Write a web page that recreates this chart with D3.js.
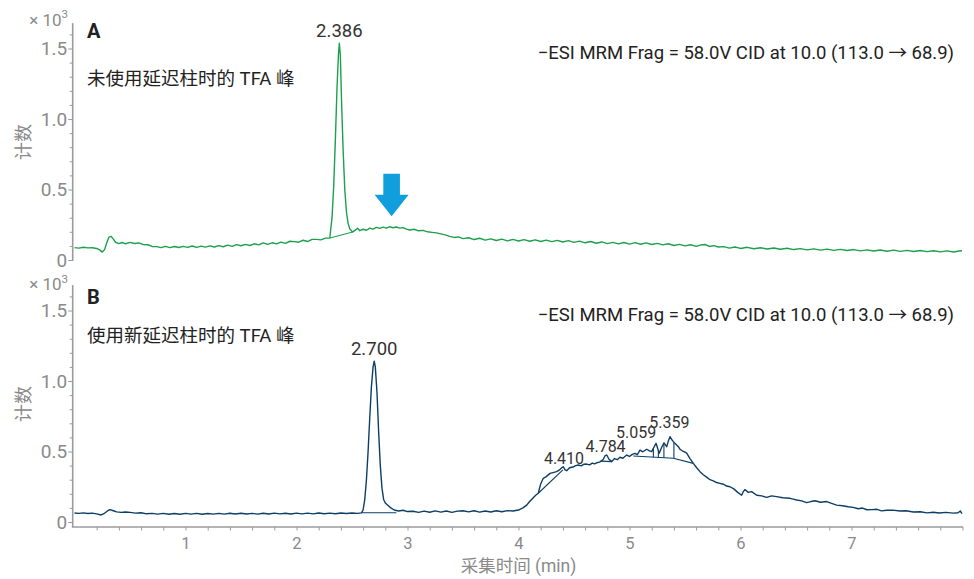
<!DOCTYPE html>
<html>
<head>
<meta charset="utf-8">
<script src="https://cdn.jsdelivr.net/npm/d3@7"></script>
<style>
  body { margin: 0; background: #fff; }
  svg { display: block; font-family: Roboto, "Noto Sans CJK SC", sans-serif; }
</style>
</head>
<body>
<div class="chart-container"></div>
<script>
////////////////////////////////////////////////////////////
//// Data //////////////////////////////////////////////////
////////////////////////////////////////////////////////////
// [time (min), counts (x10^3)]
const traceA = [
  [0.00,0.088],[0.04,0.084],[0.08,0.090],[0.12,0.086],[0.16,0.087],[0.20,0.082],[0.23,0.070],[0.25,0.056],
  [0.27,0.072],[0.29,0.120],[0.31,0.162],[0.33,0.168],[0.35,0.148],[0.37,0.126],
  [0.40,0.116],[0.43,0.124],[0.46,0.115],[0.50,0.125],[0.54,0.117],[0.58,0.121],[0.62,0.109],[0.66,0.108],
  [0.70,0.096],[0.74,0.095],[0.78,0.088],[0.82,0.097],[0.86,0.088],[0.90,0.096],[0.94,0.089],[0.98,0.097],
  [1.02,0.090],[1.06,0.099],[1.10,0.090],[1.14,0.098],[1.18,0.091],[1.22,0.100],[1.26,0.092],[1.30,0.102],
  [1.34,0.094],[1.38,0.105],[1.42,0.097],[1.46,0.109],[1.50,0.101],[1.54,0.111],[1.58,0.103],[1.62,0.115],
  [1.66,0.107],[1.70,0.121],[1.74,0.111],[1.78,0.122],[1.82,0.114],[1.86,0.127],[1.90,0.118],[1.94,0.133],
  [1.98,0.130],[2.02,0.126],[2.06,0.140],[2.10,0.131],[2.14,0.146],[2.18,0.146],[2.22,0.143],[2.26,0.155],
  [2.30,0.156],
  [2.32,0.30],[2.335,0.52],[2.35,0.85],[2.365,1.22],[2.378,1.46],[2.386,1.537],[2.395,1.45],[2.405,1.15],
  [2.42,0.78],[2.435,0.50],[2.45,0.34],[2.465,0.26],[2.48,0.22],[2.506,0.199],
  [2.53,0.212],[2.55,0.225],[2.57,0.208],[2.60,0.218],[2.63,0.211],[2.66,0.226],[2.69,0.219],[2.72,0.231],
  [2.75,0.224],[2.78,0.233],[2.81,0.226],[2.84,0.236],[2.87,0.229],[2.90,0.234],[2.93,0.226],[2.96,0.230],
  [2.99,0.219],[3.02,0.213],[3.06,0.218],[3.10,0.207],[3.14,0.210],[3.18,0.200],[3.22,0.196],[3.26,0.192],
  [3.30,0.185],[3.34,0.178],[3.38,0.168],[3.42,0.160],[3.46,0.164],
  [3.50,0.152],[3.55,0.158],[3.60,0.145],[3.65,0.154],[3.70,0.141],[3.75,0.150],[3.80,0.138],[3.85,0.148],
  [3.90,0.136],[3.95,0.146],[4.00,0.135],[4.05,0.145],[4.10,0.133],[4.15,0.143],[4.20,0.131],[4.25,0.141],
  [4.30,0.130],[4.35,0.139],[4.40,0.128],[4.45,0.137],[4.50,0.125],[4.55,0.134],[4.60,0.122],[4.65,0.131],
  [4.70,0.119],[4.75,0.128],[4.80,0.116],[4.85,0.125],[4.90,0.114],[4.95,0.124],[5.00,0.113],[5.05,0.123],
  [5.10,0.112],[5.15,0.121],[5.20,0.110],[5.25,0.118],[5.30,0.107],[5.35,0.115],[5.40,0.103],[5.45,0.111],
  [5.50,0.100],[5.55,0.108],[5.60,0.097],[5.64,0.106],[5.68,0.110],[5.72,0.096],[5.76,0.102],[5.80,0.092],
  [5.85,0.095],[5.90,0.084],[5.95,0.092],[6.00,0.082],[6.06,0.090],[6.12,0.080],[6.18,0.087],[6.24,0.078],
  [6.30,0.085],[6.36,0.076],[6.42,0.083],[6.48,0.074],[6.54,0.081],[6.60,0.072],[6.66,0.079],[6.72,0.070],
  [6.78,0.077],[6.84,0.068],[6.90,0.075],[6.96,0.067],[7.02,0.074],[7.08,0.065],[7.14,0.072],[7.20,0.064],
  [7.26,0.071],[7.32,0.062],[7.38,0.070],[7.44,0.061],[7.50,0.068],[7.56,0.060],[7.62,0.067],[7.68,0.059],
  [7.74,0.066],[7.80,0.058],[7.86,0.065],[7.92,0.057],[7.97,0.064],[7.995,0.066]
];

const traceB = [
  [0.00,0.064],[0.04,0.061],[0.08,0.065],[0.12,0.060],[0.16,0.063],[0.20,0.058],[0.24,0.050],[0.27,0.062],
  [0.30,0.080],[0.32,0.088],[0.35,0.080],[0.38,0.072],[0.42,0.068],[0.46,0.071],
  [0.50,0.068],[0.55,0.063],[0.60,0.066],[0.65,0.058],[0.70,0.061],[0.75,0.056],[0.80,0.061],[0.85,0.055],
  [0.90,0.060],[0.95,0.055],[1.00,0.061],[1.05,0.056],[1.10,0.061],[1.15,0.055],[1.20,0.060],[1.25,0.056],
  [1.30,0.061],[1.35,0.056],[1.40,0.062],[1.45,0.057],[1.50,0.062],[1.55,0.057],[1.60,0.061],[1.65,0.056],
  [1.70,0.062],[1.75,0.057],[1.80,0.063],[1.85,0.058],[1.90,0.062],[1.95,0.057],[2.00,0.063],[2.05,0.058],
  [2.10,0.063],[2.15,0.058],[2.20,0.064],[2.25,0.059],[2.30,0.063],[2.35,0.059],[2.40,0.064],[2.45,0.060],
  [2.50,0.064],[2.55,0.061],
  [2.585,0.065],[2.60,0.085],[2.615,0.16],[2.63,0.30],[2.645,0.50],[2.66,0.74],[2.675,0.96],[2.69,1.10],
  [2.70,1.14],[2.71,1.10],[2.725,0.92],[2.74,0.64],[2.755,0.40],[2.77,0.24],[2.785,0.16],[2.80,0.135],
  [2.82,0.12],[2.85,0.10],[2.88,0.085],
  [2.92,0.078],[2.96,0.083],[3.00,0.074],[3.05,0.076],[3.10,0.068],[3.15,0.077],[3.20,0.069],[3.25,0.079],
  [3.30,0.070],[3.35,0.078],[3.40,0.068],[3.45,0.077],[3.50,0.080],[3.55,0.072],[3.60,0.080],[3.65,0.070],
  [3.70,0.078],[3.75,0.071],[3.80,0.080],[3.85,0.073],[3.90,0.081],[3.95,0.078],[4.00,0.085],
  [4.04,0.10],[4.074,0.12],[4.10,0.145],[4.133,0.172],[4.155,0.19],[4.178,0.204],
  [4.20,0.27],[4.223,0.31],[4.25,0.322],[4.284,0.345],[4.31,0.35],[4.344,0.357],[4.37,0.37],[4.39,0.385],
  [4.404,0.392],[4.42,0.37],[4.434,0.364],[4.46,0.385],[4.49,0.39],[4.515,0.40],[4.539,0.404],[4.565,0.398],
  [4.59,0.41],[4.614,0.411],[4.64,0.405],[4.665,0.418],[4.685,0.412],[4.705,0.42],[4.73,0.425],[4.76,0.44],
  [4.78,0.47],[4.795,0.475],[4.815,0.445],[4.84,0.428],[4.865,0.45],[4.89,0.442],[4.914,0.459],[4.94,0.452],
  [4.975,0.475],[5.00,0.465],[5.025,0.48],[5.05,0.487],[5.07,0.478],[5.095,0.51],[5.12,0.498],[5.155,0.516],
  [5.18,0.505],[5.20,0.499],[5.22,0.53],[5.239,0.558],[5.255,0.52],[5.268,0.487],[5.29,0.53],[5.311,0.562],
  [5.325,0.545],[5.335,0.534],[5.35,0.575],[5.365,0.605],[5.38,0.585],[5.395,0.57],[5.42,0.55],[5.44,0.534],
  [5.455,0.516],[5.475,0.505],[5.50,0.495],[5.515,0.488],[5.545,0.45],[5.575,0.416],[5.605,0.385],[5.635,0.357],
  [5.665,0.335],[5.695,0.318],[5.725,0.30],[5.755,0.292],[5.785,0.28],[5.815,0.274],[5.845,0.268],[5.875,0.255],
  [5.905,0.25],[5.94,0.235],[5.975,0.21],[6.01,0.19],[6.025,0.215],[6.04,0.23],[6.07,0.21],[6.10,0.215],
  [6.146,0.19],[6.19,0.185],[6.236,0.175],[6.28,0.185],[6.326,0.18],[6.38,0.172],[6.446,0.168],[6.475,0.162],
  [6.506,0.156],[6.55,0.15],[6.596,0.137],[6.635,0.145],[6.671,0.151],[6.72,0.14],[6.777,0.145],[6.82,0.132],
  [6.867,0.12],[6.92,0.115],[6.97,0.108],
  [7.016,0.104],[7.06,0.094],[7.10,0.099],[7.14,0.087],[7.182,0.088],[7.23,0.090],[7.27,0.079],[7.317,0.083],
  [7.37,0.084],[7.437,0.078],[7.49,0.080],[7.557,0.071],[7.62,0.073],[7.68,0.065],[7.737,0.069],[7.79,0.064],
  [7.85,0.068],[7.917,0.063],[7.96,0.066],[7.98,0.078],[7.995,0.060]
];

// integration baselines: [t1, v1, t2, v2]
const baselinesA = [[2.302, 0.156, 2.506, 0.199]];
const baselinesB = [
  [2.587, 0.066, 2.90, 0.066],
  [4.178, 0.204, 4.40, 0.37],
  [4.74, 0.432, 4.84, 0.428],
  [5.034, 0.468, 5.395, 0.452],
  [5.395, 0.452, 5.575, 0.416]
];
// drop lines (peak splits) in B
const dropTimesB = [5.215, 5.26, 5.31, 5.40];

// peak labels
const peaksA = [{ time: 2.386, label: "2.386" }];
const peaksB = [
  { time: 2.700, label: "2.700" },
  { time: 4.410, label: "4.410" },
  { time: 4.784, label: "4.784" },
  { time: 5.059, label: "5.059" },
  { time: 5.359, label: "5.359" }
];
const peakLiftA = [6];
const peakLiftB = [6.5, 4, 3.5, 15.5, 10.5];

const arrowTimeA = 2.857;

const titlesPanel = ["A", "B"];
const subtitlesPanel = ["未使用延迟柱时的 TFA 峰", "使用新延迟柱时的 TFA 峰"];
const methodNote = "\u2212ESI MRM Frag = 58.0V CID at 10.0 (113.0 \u2192 68.9)";

const yTickValues = d3.range(0, 17).map(i => i / 10);
const yTickLabels = { 0: "0", 0.5: "0.5", 1: "1.0", 1.5: "1.5" };
const xTickValues = d3.range(1, 41).map(i => i / 5);
const xTickLabels = ["1", "2", "3", "4", "5", "6", "7"];
const yTitle = "计数";
const xTitle = "采集时间 (min)";

////////////////////////////////////////////////////////////
//// Chart /////////////////////////////////////////////////
////////////////////////////////////////////////////////////
const chartWidth = 974;
const chartHeight = 579;
const axisX = 72.7;
const pxPerUnit = 141;
const yMax = 1.68;
const greyText = "#8a8a8a";
const greyAxis = "#9b9b9b";

const xScale = d3.scaleLinear().domain([0, 8]).range([74.5, 962.5]);

const panels = [
  {
    trace: traceA, color: "#1ba04c", zeroY: 260, bottomY: 261,
    baselines: baselinesA, drops: [], peaks: peaksA, lifts: peakLiftA,
    title: titlesPanel[0], subtitle: subtitlesPanel[0],
    titleY: 38, noteY: 59, subY: 85, expY: 25.5
  },
  {
    trace: traceB, color: "#0c3e66", zeroY: 522, bottomY: 527,
    baselines: baselinesB, drops: dropTimesB, peaks: peaksB, lifts: peakLiftB,
    title: titlesPanel[1], subtitle: subtitlesPanel[1],
    titleY: 303.5, noteY: 320.5, subY: 342, expY: 290
  }
];

const svg = d3
  .select(".chart-container")
  .append("svg")
  .attr("width", chartWidth)
  .attr("height", chartHeight)
  .attr("viewBox", [0, 0, chartWidth, chartHeight]);

function interp(trace, t) {
  const i = d3.bisector(d => d[0]).left(trace, t);
  if (i <= 0) return trace[0][1];
  if (i >= trace.length) return trace[trace.length - 1][1];
  const a = trace[i - 1], b = trace[i];
  return a[1] + (b[1] - a[1]) * (t - a[0]) / (b[0] - a[0]);
}

panels.forEach(p => {
  const yScale = d3
    .scaleLinear()
    .domain([0, yMax])
    .range([p.zeroY, p.zeroY - yMax * pxPerUnit]);
  const topY = yScale(yMax);

  const g = svg.append("g");

  // y axis
  const gy = g
    .append("g")
    .attr("transform", `translate(${axisX},0)`)
    .call(
      d3
        .axisLeft(yScale)
        .tickValues(yTickValues)
        .tickSize(3)
        .tickPadding(2.5)
        .tickFormat(d => yTickLabels[d] !== undefined ? yTickLabels[d] : "")
    );
  gy.select(".domain").remove();
  gy.selectAll(".tick line")
    .attr("stroke", greyAxis)
    .attr("x2", d => (yTickLabels[d] !== undefined ? -4.5 : -3));
  gy.selectAll(".tick text")
    .attr("fill", greyText)
    .attr("font-size", 19)
    .attr("font-family", "Roboto");
  gy.append("line")
    .attr("stroke", greyAxis)
    .attr("stroke-width", 1.6)
    .attr("y1", topY)
    .attr("y2", p.bottomY);

  // x 10^3
  const exp = g
    .append("text")
    .attr("x", 68)
    .attr("y", p.expY)
    .attr("text-anchor", "end")
    .attr("fill", greyText)
    .attr("font-size", 17);
  exp.append("tspan").text("\u00d7 10");
  exp.append("tspan").attr("font-size", 11.5).attr("dy", -7.5).text("3");

  // y title
  g.append("text")
    .attr("transform", `translate(30,${p.zeroY - 118}) rotate(-90)`)
    .attr("text-anchor", "middle")
    .attr("fill", greyText)
    .attr("font-size", 18)
    .text(yTitle);

  // integration baselines
  g.append("g")
    .selectAll("line")
    .data(p.baselines)
    .join("line")
    .attr("x1", d => xScale(d[0]))
    .attr("y1", d => yScale(d[1]))
    .attr("x2", d => xScale(d[2]))
    .attr("y2", d => yScale(d[3]))
    .attr("stroke", p.color)
    .attr("stroke-width", 1.1);

  // drop lines
  const longBase = p.baselines.filter(b => b[0] > 5);
  g.append("g")
    .selectAll("line")
    .data(p.drops)
    .join("line")
    .attr("x1", d => xScale(d))
    .attr("x2", d => xScale(d))
    .attr("y1", d => yScale(interp(p.trace, d)))
    .attr("y2", d => {
      const seg = longBase.find(b => d >= b[0] && d <= b[2]) || longBase[0];
      return yScale(seg[1] + (seg[3] - seg[1]) * (d - seg[0]) / (seg[2] - seg[0]));
    })
    .attr("stroke", p.color)
    .attr("stroke-width", 1.1);

  // trace
  g.append("path")
    .datum(p.trace)
    .attr("fill", "none")
    .attr("stroke", p.color)
    .attr("stroke-width", 1.4)
    .attr("stroke-linejoin", "round")
    .attr("d", d3.line().x(d => xScale(d[0])).y(d => yScale(d[1])));

  // peak labels
  g.append("g")
    .selectAll("text")
    .data(p.peaks)
    .join("text")
    .attr("x", d => xScale(d.time))
    .attr("y", (d, i) => yScale(interp(p.trace, d.time)) - p.lifts[i])
    .attr("text-anchor", "middle")
    .attr("fill", "#333")
    .attr("font-size", (d, i) => (i === 0 ? 18.5 : 16))
    .text(d => d.label);

  // panel texts
  g.append("text")
    .attr("x", 87)
    .attr("y", p.titleY)
    .attr("font-weight", "bold")
    .attr("font-size", 20)
    .attr("fill", "#222")
    .text(p.title);
  g.append("text")
    .attr("x", 87)
    .attr("y", p.subY)
    .attr("font-size", 18.5)
    .attr("fill", "#222")
    .text(p.subtitle);
  g.append("text")
    .attr("x", 954)
    .attr("y", p.noteY)
    .attr("text-anchor", "end")
    .attr("font-size", 18.5)
    .attr("fill", "#222")
    .text(methodNote);

  p.yScale = yScale;
});

// arrow in panel A
{
  const yA = panels[0].yScale;
  const tipX = xScale(arrowTimeA);
  const tipY = yA(interp(traceA, arrowTimeA)) - 11;
  svg.append("path")
    .attr("transform", `translate(${tipX},${tipY})`)
    .attr("fill", "#109fdc")
    .attr("d", "M0,0 L-17,-21.5 L-8.3,-21.5 L-8.3,-42.5 L8.3,-42.5 L8.3,-21.5 L17,-21.5 Z");
}

// x axis (bottom panel)
{
  const p = panels[1];
  const gx = svg
    .append("g")
    .attr("transform", `translate(0,${p.bottomY})`)
    .call(
      d3
        .axisBottom(xScale)
        .tickValues(xTickValues)
        .tickSize(3.5)
        .tickFormat(d => (Number.isInteger(d) && d >= 1 && d <= 7 ? xTickLabels[d - 1] : ""))
    );
  gx.select(".domain").remove();
  gx.selectAll(".tick line").attr("stroke", greyAxis);
  gx.selectAll(".tick text")
    .attr("fill", greyText)
    .attr("font-size", 16.5)
    .attr("font-family", "Roboto")
    .attr("y", 10.5);
  gx.append("line")
    .attr("stroke", greyAxis)
    .attr("stroke-width", 1.6)
    .attr("x1", axisX - 0.8)
    .attr("x2", xScale(8) + 0.5);

  svg.append("text")
    .attr("x", xScale(4))
    .attr("y", 572)
    .attr("text-anchor", "middle")
    .attr("fill", greyText)
    .attr("font-size", 17.5)
    .text(xTitle);
}
</script>
</body>
</html>
